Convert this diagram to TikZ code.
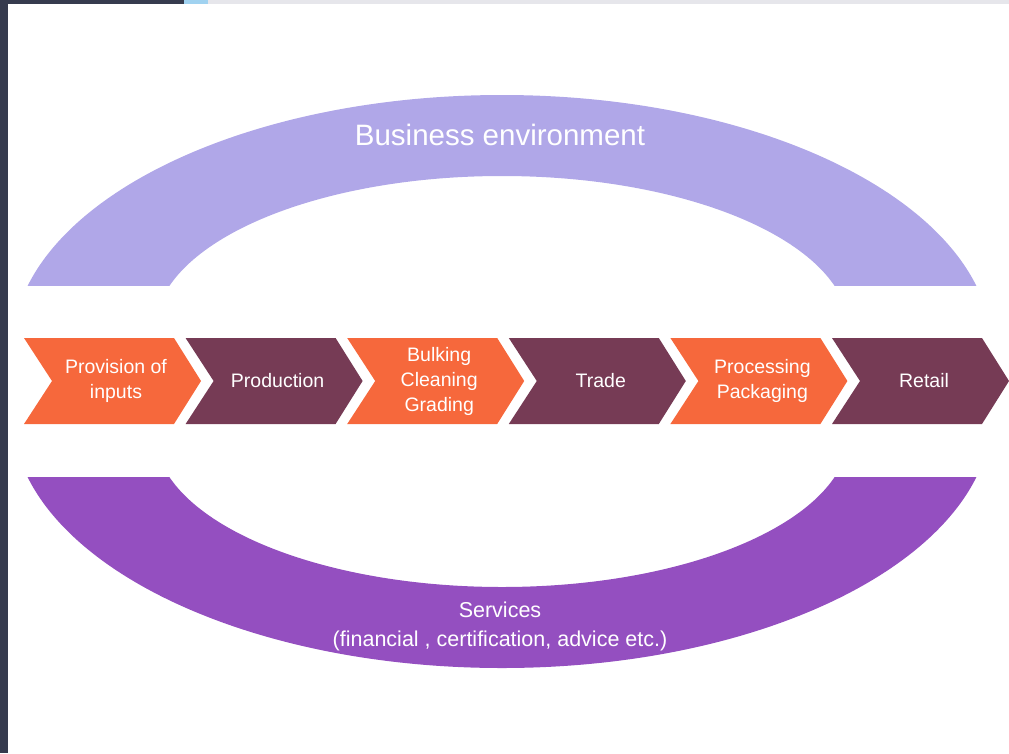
\documentclass[tikz,border=0pt]{standalone}
\usepackage{fontspec}
\setmainfont{Liberation Sans}
\usepackage{tikz}
\usetikzlibrary{positioning}
\definecolor{envcol}{RGB}{176,167,232}
\definecolor{servcol}{RGB}{148,79,192}
\definecolor{orng}{RGB}{246,104,60}
\definecolor{plum}{RGB}{118,59,85}
\definecolor{scrn}{RGB}{54,59,78}
\definecolor{tabblue}{RGB}{160,210,240}
\definecolor{bargrey}{RGB}{230,230,235}
\tikzset{steplabel/.style={text=white,align=center,font=\fontsize{19.5}{25}\selectfont},
bandlabel/.style={text=white,align=center}}

\begin{document}
\begin{tikzpicture}[x=1pt,y=-1pt]
\useasboundingbox (0,0) rectangle (1009,753);
% screen edges
\fill[scrn] (0,0) rectangle (8,753);
\fill[scrn] (0,0) rectangle (184,4);
\fill[tabblue] (184,0) rectangle (208,4);
\fill[bargrey] (208,0) rectangle (1009,4);

% business environment band
\begin{scope}
\clip (0,0) rectangle (1009,285);
\fill[envcol,even odd rule] (502,350) ellipse [x radius=490, y radius=255]
  (502,330) ellipse [x radius=347, y radius=154];
\end{scope}
\node (env) at (500,135) [bandlabel,font=\fontsize{29.5}{34}\selectfont] {Business environment};

% services band
\begin{scope}
\clip (0,477) rectangle (1009,753);
\fill[servcol,even odd rule] (502,413) ellipse [x radius=490, y radius=255]
  (502,433) ellipse [x radius=347, y radius=154];
\end{scope}
\node (serv) at (500,626) [bandlabel,font=\fontsize{21.5}{29}\selectfont] {Services\\(financial , certification, advice etc.)};

% value chain steps
\foreach \txt/\col [count=\i from 0] in {{Provision of\\inputs}/orng,Production/plum,{Bulking\\Cleaning\\Grading}/orng,Trade/plum,{Processing\\Packaging}/orng,Retail/plum}
{
\pgfmathsetmacro{\xa}{24+161.6*\i}
\fill[\col] (\xa,338) -- ++(150,0) -- ++(27,43) -- ++(-27,43) -- ++(-150,0) -- ++(28,-43) -- cycle;
\node (st\i) at ({\xa+92},381) [steplabel] {\txt};
}
\end{tikzpicture}
\end{document}
